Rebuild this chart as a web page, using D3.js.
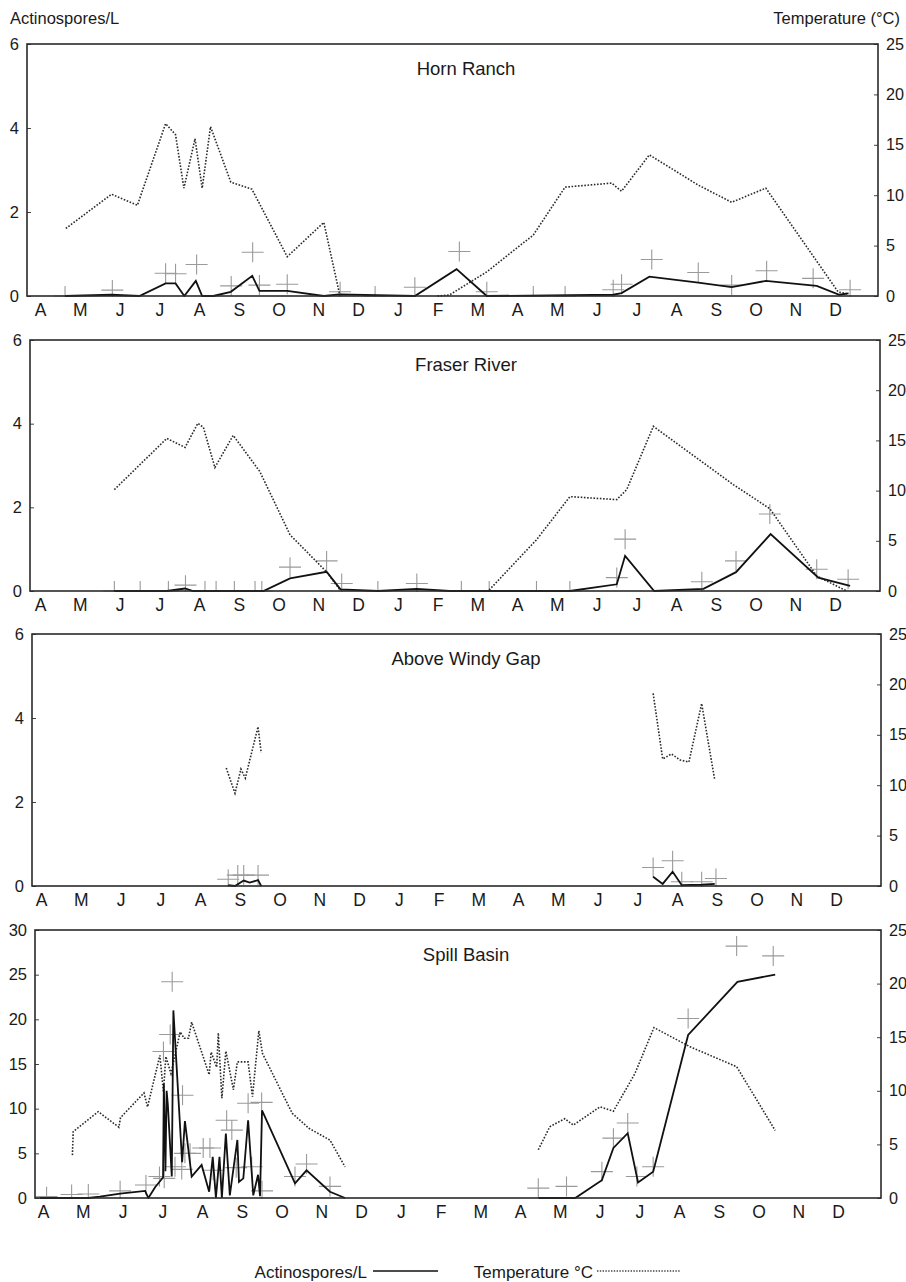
<!DOCTYPE html>
<html><head><meta charset="utf-8">
<script src="https://cdn.jsdelivr.net/npm/d3@7"></script>
<style>
body{margin:0;background:#fff}
svg{display:block}
text{font-family:"Liberation Sans",Arial,Helvetica,sans-serif;fill:#1a1a1a}
</style>
</head><body>
<svg id="chart" width="906" height="1282"></svg>
<script>
// ---------- tick labels ----------
const monthLabels = ["A","M","J","J","A","S","O","N","D","J","F","M","A","M","J","J","A","S","O","N","D"];
const sporeTicksSmall = [0,2,4,6];
const sporeTicksSpill = [0,5,10,15,20,25,30];
const tempTicks = [0,5,10,15,20,25];
const siteNames = ["Horn Ranch","Fraser River","Above Windy Gap","Spill Basin"];

// ---------- data: [month position (0 = first April), value]; null = gap ----------
const hornTemp = [[0.65,6.7],[1.80,10.1],[2.45,9.0],[3.16,17.1],[3.41,16.0],[3.62,10.7],[3.90,15.6],[4.08,10.7],[4.29,16.8],[4.80,11.3],[5.33,10.6],[6.22,3.9],[7.14,7.3],[7.53,0.3],[8.8,null],[10.0,0],[10.3,0.1],[11.24,2.4],[12.41,6.05],[13.21,10.8],[14.38,11.2],[14.63,10.4],[15.33,14.0],[16.56,11.0],[17.40,9.3],[18.26,10.7],[20.08,0.4],[20.34,0.2]];
const hornSpores = [[0.63,0],[1.80,0.03],[2.50,0],[3.16,0.30],[3.41,0.30],[3.63,0],[3.92,0.36],[4.08,0],[4.36,0],[4.80,0.10],[5.34,0.48],[5.52,0.12],[6.22,0.12],[7.14,0],[7.53,0.04],[9.43,0],[10.48,0.64],[11.24,0],[14.42,0.03],[14.63,0.07],[15.33,0.46],[16.56,0.32],[17.40,0.21],[18.26,0.36],[19.54,0.24],[20.11,0.03],[20.34,0.06]];
const hornSamples = [[0.63,0],[1.82,0.14],[3.16,0.54],[3.41,0.53],[3.94,0.75],[4.81,0.24],[5.35,1.04],[5.52,0.26],[6.22,0.28],[7.55,0.10],[8.43,0],[9.43,0.21],[10.55,1.06],[11.24,0.10],[12.41,0],[13.21,0],[14.42,0.15],[14.63,0.28],[15.39,0.87],[16.56,0.56],[17.40,0.26],[18.28,0.60],[19.45,0.42],[20.38,0.15]];

const fraserTemp = [[1.87,10.1],[3.19,15.2],[3.65,14.3],[3.97,16.7],[4.11,16.3],[4.40,12.3],[4.86,15.5],[5.53,11.9],[6.29,5.6],[7.21,1.9],[7.55,0.1],[9.0,null],[11.30,0.1],[12.49,5.1],[13.33,9.4],[14.51,9.1],[14.76,10.1],[15.43,16.4],[17.44,10.6],[18.36,8.2],[19.54,1.5],[20.29,0.0]];
const fraserSpores = [[1.87,0],[3.19,0],[3.65,0.06],[3.85,0],[5.62,0],[6.29,0.30],[7.21,0.46],[7.56,0.04],[8.50,0],[9.48,0.05],[10.3,0],[13.33,0],[14.51,0.16],[14.72,0.84],[15.45,0],[16.69,0.05],[17.51,0.45],[18.38,1.36],[19.58,0.32],[20.38,0.12]];
const fraserSamples = [[1.87,0],[2.52,0],[3.23,0],[3.66,0.14],[4.15,0],[4.43,0],[4.89,0],[5.41,0],[5.58,0],[6.29,0.57],[7.21,0.72],[7.59,0.18],[8.50,0],[9.48,0.18],[10.60,0],[11.30,0],[12.49,0],[13.33,0],[14.51,0.32],[14.72,1.24],[16.65,0.22],[17.51,0.72],[18.36,1.84],[19.54,0.52],[20.33,0.28]];

const windyTemp = [[4.66,11.7],[4.88,9.2],[5.03,11.6],[5.14,10.7],[5.46,15.8],[5.54,13.2],[10.0,null],[15.40,19.1],[15.64,12.6],[15.86,13.1],[16.08,12.5],[16.30,12.3],[16.62,18.1],[16.95,10.5]];
const windySpores = [[4.71,0.02],[4.88,0],[5.10,0.13],[5.25,0.08],[5.46,0.14],[5.54,0],[10.0,null],[15.40,0.22],[15.64,0.05],[15.89,0.34],[16.12,0.02],[16.62,0.03],[16.95,0.05]];
const windySamples = [[4.71,0.16],[4.95,0.26],[5.10,0.26],[5.46,0.26],[15.40,0.44],[15.89,0.60],[16.12,0.10],[16.62,0.10],[16.98,0.18]];

const spillTemp = [[0.74,4.0],[0.76,6.2],[1.39,8.05],[1.91,6.6],[1.95,7.5],[2.54,9.8],[2.63,8.5],[2.94,13.3],[3.03,9.9],[3.09,13.2],[3.22,11.6],[3.45,15.5],[3.55,14.9],[3.66,14.9],[3.74,16.4],[4.18,11.5],[4.23,13.6],[4.37,12.2],[4.41,15.4],[4.50,9.3],[4.60,13.7],[4.79,10.1],[4.89,12.7],[5.16,12.7],[5.27,9.45],[5.43,15.6],[5.52,13.5],[6.27,7.9],[6.69,6.5],[7.22,5.4],[7.60,2.9],[10.0,null],[12.46,4.5],[12.75,6.65],[13.13,7.4],[13.34,6.8],[14.01,8.5],[14.35,8.1],[14.89,11.6],[15.37,15.9],[16.28,14.1],[17.45,12.25],[18.42,6.3]];
const spillSpores = [[-0.08,0],[0.72,0],[1.14,0],[1.43,0.15],[1.94,0.5],[2.57,0.8],[2.65,0],[2.82,1.2],[3.02,2.3],[3.04,12.8],[3.08,3.0],[3.11,12.0],[3.14,10.5],[3.24,2.4],[3.28,21.0],[3.50,4.0],[3.57,8.6],[3.74,2.4],[3.99,3.7],[4.18,0.7],[4.27,4.6],[4.35,0],[4.44,4.6],[4.50,0],[4.60,7.2],[4.70,0.3],[4.89,6.5],[4.93,1.8],[5.04,2.2],[5.16,8.7],[5.29,0.3],[5.41,2.6],[5.46,0.2],[5.51,9.8],[6.34,1.65],[6.63,3.1],[7.22,0.7],[7.60,0],[10.0,null],[12.47,0],[13.39,0],[14.06,2.0],[14.35,5.6],[14.71,7.25],[14.97,1.75],[15.35,2.95],[16.23,18.25],[17.47,24.2],[18.42,25.0]];
const spillSamples = [[0.09,0.15],[0.72,0.4],[1.14,0.45],[1.94,0.8],[2.59,1.45],[2.93,2.4],[3.03,16.4],[3.05,2.2],[3.20,18.3],[3.25,24.2],[3.32,3.5],[3.49,3.2],[3.51,11.5],[3.57,5.0],[3.70,5.0],[4.03,5.6],[4.20,5.6],[4.28,3.1],[4.62,8.7],[4.75,7.6],[4.86,3.4],[5.16,10.6],[5.25,3.5],[5.50,10.7],[5.51,0.8],[6.34,2.4],[6.63,3.8],[7.22,1.3],[12.46,1.1],[13.17,1.3],[14.06,2.95],[14.35,6.7],[14.71,8.4],[14.94,2.4],[15.35,3.5],[16.23,20.1],[17.45,28.2],[18.37,27.1]];

// ---------- layout ----------
const panels = [
  {name:siteNames[0], L:27, R:878, T:44,  B:296,  x0:40, yMax:6,  yTicks:sporeTicksSmall, temp:hornTemp,   spores:hornSpores,   samples:hornSamples},
  {name:siteNames[1], L:30, R:880, T:340, B:591,  x0:40, yMax:6,  yTicks:sporeTicksSmall, temp:fraserTemp, spores:fraserSpores, samples:fraserSamples},
  {name:siteNames[2], L:32, R:881, T:634, B:886,  x0:41, yMax:6,  yTicks:sporeTicksSmall, temp:windyTemp,  spores:windySpores,  samples:windySamples},
  {name:siteNames[3], L:35, R:881, T:930, B:1198, x0:43, yMax:30, yTicks:sporeTicksSpill, temp:spillTemp,  spores:spillSpores,  samples:spillSamples}
];
const STEP = 39.75;
const svg = d3.select("#chart");
const fmt = d3.format("d");

svg.append("text").attr("x",10).attr("y",24).attr("font-size",16.5).text("Actinospores/L");
svg.append("text").attr("x",900).attr("y",24).attr("font-size",16.5).attr("text-anchor","end").text("Temperature (°C)");

panels.forEach((p,i)=>{
  const x = d3.scaleLinear().domain([0,20]).range([p.x0, p.x0 + 20*STEP]);
  const y = d3.scaleLinear().domain([0,p.yMax]).range([p.B,p.T]);
  const yT = d3.scaleLinear().domain([0,25]).range([p.B,p.T]);
  const g = svg.append("g");

  const clipId = "clip"+i;
  svg.append("clipPath").attr("id",clipId).append("rect")
    .attr("x",p.L).attr("y",p.T-2).attr("width",p.R-p.L).attr("height",p.B-p.T+3);

  // left axis
  const la = g.append("g").attr("transform",`translate(${p.L},0)`)
    .call(d3.axisLeft(y).tickValues(p.yTicks).tickFormat(fmt).tickSize(-4).tickPadding(8));
  la.select(".domain").remove();
  la.selectAll("line").attr("stroke","#444");
  la.selectAll("text").attr("font-size",16.5).attr("font-family","Liberation Sans, Arial, sans-serif").attr("fill","#1a1a1a");

  // right axis
  const ra = g.append("g").attr("transform",`translate(${p.R},0)`)
    .call(d3.axisRight(yT).tickValues(tempTicks).tickFormat(fmt).tickSize(-4).tickPadding(8));
  ra.select(".domain").remove();
  ra.selectAll("line").attr("stroke","#444");
  ra.selectAll("text").attr("font-size",16.2).attr("font-family","Liberation Sans, Arial, sans-serif").attr("fill","#1a1a1a");

  // month labels
  const ba = g.append("g").attr("transform",`translate(0,${p.B})`)
    .call(d3.axisBottom(x).tickValues(d3.range(monthLabels.length)).tickFormat(d=>monthLabels[d]).tickSize(0).tickPadding(8));
  ba.select(".domain").remove();
  ba.selectAll("text").attr("font-size",17.5).attr("font-family","Liberation Sans, Arial, sans-serif").attr("fill","#1a1a1a");

  const plot = g.append("g").attr("clip-path",`url(#${clipId})`);

  // sample crosses
  plot.selectAll("path.cross").data(p.samples).join("path")
    .attr("class","cross")
    .attr("d",d=>{const cx=x(d[0]), cy=y(d[1]); return `M${cx-11},${cy}H${cx+11}M${cx},${cy-10}V${cy+10}`;})
    .attr("fill","none").attr("stroke","#9a9a9a").attr("stroke-width",1.1);

  // temperature (dotted)
  plot.append("path").datum(p.temp)
    .attr("d",d3.line().defined(d=>d[1]!==null).x(d=>x(d[0])).y(d=>yT(d[1])))
    .attr("fill","none").attr("stroke","#2a2a2a").attr("stroke-width",1.6).attr("stroke-dasharray","1.6,1.6");

  // actinospores (solid)
  plot.append("path").datum(p.spores)
    .attr("d",d3.line().defined(d=>d[1]!==null).x(d=>x(d[0])).y(d=>y(d[1])))
    .attr("fill","none").attr("stroke","#111").attr("stroke-width",1.8).attr("stroke-linejoin","miter");

  // frame
  g.append("rect").attr("x",p.L).attr("y",p.T).attr("width",p.R-p.L).attr("height",p.B-p.T)
    .attr("fill","none").attr("stroke","#2a2a2a").attr("stroke-width",1.6);

  // title
  g.append("text").attr("x",466).attr("y",p.T+31).attr("text-anchor","middle").attr("font-size",18.5).text(p.name);
});

// legend
const lg = svg.append("g");
lg.append("text").attr("x",367).attr("y",1278).attr("text-anchor","end").attr("font-size",17).text("Actinospores/L");
lg.append("line").attr("x1",373).attr("x2",438).attr("y1",1271).attr("y2",1271).attr("stroke","#111").attr("stroke-width",1.6);
lg.append("text").attr("x",593).attr("y",1278).attr("text-anchor","end").attr("font-size",17).text("Temperature °C");
lg.append("line").attr("x1",597).attr("x2",681).attr("y1",1271).attr("y2",1271).attr("stroke","#444").attr("stroke-width",1.3).attr("stroke-dasharray","1.4,1.4");
</script>
</body></html>
